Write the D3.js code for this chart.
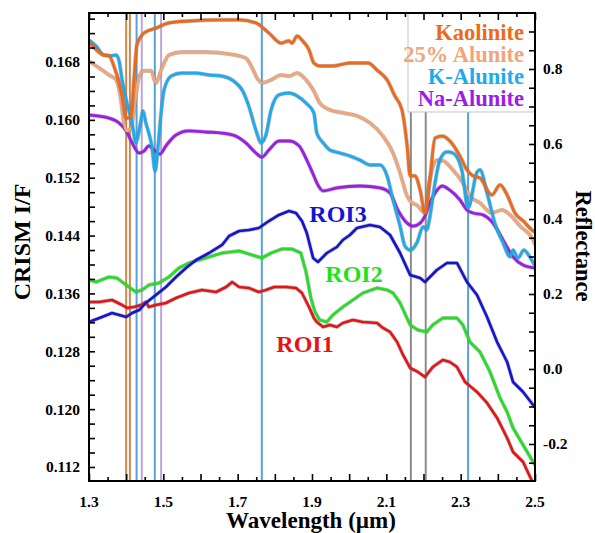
<!DOCTYPE html>
<html><head><meta charset="utf-8">
<script src="https://cdn.jsdelivr.net/npm/d3@7"></script>
<style>body{margin:0;background:#fff}svg{display:block}</style>
</head><body><svg id="c" width="595" height="533"></svg>
<script>
// ---------- DATA ----------
// Library spectra (right axis: Reflectance)
const kaoW = [1.300,1.340,1.354,1.367,1.389,1.400,1.413,1.421,1.429,1.448,1.480,1.515,1.569,1.658,1.704,1.749,1.784,1.817,1.838,1.846,1.860,1.873,1.892,1.905,1.921,1.956,2.002,2.051,2.075,2.102,2.123,2.142,2.156,2.164,2.177,2.191,2.204,2.217,2.231,2.250,2.271,2.298,2.317,2.333,2.352,2.384,2.406,2.425,2.446,2.468,2.495,2.500];
const kaoR = [0.872,0.837,0.835,0.808,0.731,0.669,0.672,0.771,0.864,0.896,0.909,0.923,0.928,0.931,0.931,0.923,0.896,0.869,0.875,0.869,0.888,0.877,0.851,0.816,0.808,0.808,0.816,0.816,0.797,0.771,0.728,0.691,0.595,0.515,0.515,0.477,0.416,0.504,0.616,0.621,0.608,0.568,0.531,0.515,0.509,0.464,0.491,0.464,0.416,0.395,0.368,0.365];

const alu25W = [1.300,1.327,1.354,1.373,1.386,1.394,1.402,1.413,1.426,1.435,1.448,1.467,1.480,1.494,1.515,1.550,1.615,1.677,1.722,1.739,1.752,1.765,1.790,1.817,1.838,1.860,1.884,1.905,1.921,1.948,1.983,2.021,2.056,2.091,2.118,2.137,2.156,2.169,2.182,2.204,2.217,2.236,2.252,2.279,2.306,2.325,2.352,2.384,2.411,2.433,2.460,2.495,2.500];
const alu25R = [0.821,0.803,0.784,0.771,0.717,0.656,0.635,0.643,0.728,0.781,0.795,0.795,0.763,0.797,0.837,0.845,0.845,0.840,0.829,0.803,0.776,0.763,0.771,0.784,0.781,0.789,0.771,0.741,0.709,0.691,0.683,0.675,0.656,0.621,0.576,0.523,0.461,0.443,0.437,0.416,0.504,0.557,0.555,0.531,0.496,0.461,0.443,0.416,0.424,0.411,0.381,0.344,0.330];

const kAluW = [1.300,1.319,1.340,1.359,1.373,1.381,1.389,1.402,1.416,1.426,1.432,1.440,1.445,1.453,1.461,1.469,1.478,1.486,1.494,1.502,1.521,1.548,1.588,1.623,1.658,1.695,1.712,1.730,1.749,1.763,1.776,1.790,1.811,1.838,1.860,1.884,1.905,1.913,1.930,1.948,1.975,2.002,2.029,2.056,2.083,2.102,2.118,2.137,2.150,2.164,2.182,2.199,2.209,2.217,2.231,2.244,2.263,2.279,2.303,2.320,2.344,2.352,2.371,2.392,2.414,2.433,2.441,2.454,2.470,2.486,2.500];
const kAluR = [0.877,0.861,0.837,0.835,0.837,0.821,0.771,0.709,0.656,0.603,0.621,0.664,0.688,0.656,0.629,0.595,0.528,0.595,0.683,0.744,0.781,0.789,0.789,0.784,0.781,0.763,0.744,0.701,0.637,0.603,0.624,0.691,0.731,0.736,0.728,0.709,0.683,0.629,0.603,0.584,0.576,0.568,0.557,0.544,0.544,0.515,0.451,0.381,0.328,0.317,0.336,0.379,0.371,0.405,0.496,0.557,0.579,0.576,0.531,0.429,0.525,0.531,0.469,0.389,0.336,0.299,0.317,0.296,0.317,0.299,0.275];

const naAluW = [1.300,1.354,1.381,1.400,1.416,1.435,1.448,1.461,1.475,1.491,1.507,1.534,1.569,1.615,1.658,1.695,1.722,1.749,1.765,1.784,1.811,1.838,1.865,1.886,1.905,1.913,1.930,1.967,2.029,2.083,2.110,2.131,2.156,2.172,2.191,2.204,2.217,2.231,2.250,2.271,2.298,2.317,2.333,2.360,2.387,2.414,2.441,2.468,2.500];
const naAluR = [0.677,0.669,0.656,0.635,0.603,0.576,0.581,0.595,0.584,0.573,0.595,0.624,0.635,0.632,0.629,0.621,0.603,0.576,0.565,0.584,0.608,0.608,0.595,0.557,0.515,0.496,0.475,0.483,0.488,0.483,0.469,0.424,0.389,0.381,0.389,0.408,0.443,0.469,0.488,0.477,0.451,0.424,0.416,0.411,0.389,0.344,0.299,0.277,0.269];

// CRISM ROI spectra (left axis: I/F)
const roi3W = [1.300,1.335,1.362,1.381,1.400,1.416,1.435,1.453,1.480,1.507,1.534,1.561,1.588,1.623,1.658,1.677,1.704,1.730,1.757,1.784,1.811,1.838,1.857,1.873,1.886,1.903,1.916,1.940,1.967,1.983,2.002,2.021,2.056,2.083,2.110,2.137,2.164,2.191,2.204,2.236,2.263,2.290,2.317,2.344,2.371,2.398,2.425,2.441,2.468,2.495,2.500];
const roi3I = [0.13205,0.13274,0.13329,0.13302,0.13274,0.13329,0.13371,0.13468,0.13578,0.13689,0.13827,0.13952,0.14062,0.14159,0.14270,0.14394,0.14463,0.14477,0.14505,0.14601,0.14685,0.14740,0.14712,0.14601,0.14436,0.14090,0.14035,0.14159,0.14242,0.14339,0.14408,0.14505,0.14546,0.14519,0.14408,0.14159,0.13855,0.13813,0.13758,0.13924,0.14021,0.14021,0.13758,0.13578,0.13274,0.12928,0.12652,0.12375,0.12237,0.12057,0.12030];

const roi2W = [1.300,1.319,1.354,1.375,1.400,1.426,1.443,1.461,1.488,1.515,1.542,1.569,1.596,1.623,1.658,1.704,1.739,1.765,1.790,1.819,1.846,1.870,1.884,1.897,1.908,1.921,1.940,1.956,1.983,2.010,2.037,2.075,2.102,2.118,2.137,2.164,2.185,2.209,2.225,2.252,2.290,2.306,2.325,2.352,2.379,2.406,2.425,2.441,2.468,2.495,2.500];
const roi2I = [0.13786,0.13758,0.13827,0.13813,0.13717,0.13620,0.13648,0.13717,0.13744,0.13827,0.13952,0.14021,0.14062,0.14104,0.14159,0.14187,0.14131,0.14090,0.14159,0.14214,0.14214,0.14159,0.13896,0.13537,0.13343,0.13233,0.13205,0.13302,0.13412,0.13509,0.13606,0.13675,0.13648,0.13606,0.13468,0.13164,0.13094,0.13067,0.13164,0.13260,0.13260,0.13164,0.12928,0.12790,0.12514,0.12154,0.11961,0.11739,0.11504,0.11269,0.11228];

const roi1W = [1.300,1.327,1.362,1.389,1.402,1.421,1.440,1.453,1.461,1.480,1.507,1.534,1.569,1.604,1.642,1.669,1.685,1.704,1.730,1.757,1.776,1.798,1.830,1.857,1.873,1.892,1.905,1.913,1.930,1.948,1.967,1.983,2.010,2.037,2.075,2.091,2.110,2.129,2.145,2.164,2.185,2.204,2.225,2.252,2.271,2.290,2.312,2.344,2.371,2.398,2.425,2.441,2.468,2.492,2.500];
const roi1I = [0.13482,0.13482,0.13509,0.13440,0.13399,0.13412,0.13440,0.13482,0.13412,0.13440,0.13468,0.13537,0.13606,0.13647,0.13620,0.13689,0.13758,0.13689,0.13675,0.13620,0.13647,0.13689,0.13689,0.13675,0.13606,0.13412,0.13260,0.13205,0.13136,0.13164,0.13136,0.13191,0.13233,0.13205,0.13191,0.13122,0.13067,0.12928,0.12749,0.12569,0.12514,0.12444,0.12583,0.12680,0.12652,0.12583,0.12375,0.12237,0.12085,0.11878,0.11601,0.11407,0.11269,0.11006,0.10940];

// Band-centre markers (µm) and which reference each belongs to
const bandCenters = [1.400,1.410,1.428,1.442,1.477,1.494,1.765,2.166,2.206,2.320];
const bandKinds   = ["kao","kao","kalu","naalu","kalu","naalu","kalu","gray","gray","kalu"];

// Legend / labels
const legendNames = ["Kaolinite","25% Alunite","K-Alunite","Na-Alunite"];
const roiNames = ["ROI3","ROI2","ROI1"];

// Ticks
const xTickLabels = [1.3,1.5,1.7,1.9,2.1,2.3,2.5];
const leftTickLabels = [0.112,0.120,0.128,0.136,0.144,0.152,0.160,0.168];
const rightTickLabels = [-0.2,0.0,0.2,0.4,0.6,0.8];

// ---------- DRAWING ----------
const svg = d3.select("#c");
const L = 89, R = 535, T = 13, B = 481;
const x = d3.scaleLinear().domain([1.3, 2.5]).range([L, R]);
const yL = d3.scaleLinear().domain([0.11006, 0.17478]).range([B, T]);
const yR = d3.scaleLinear().domain([-0.2987, 0.9493]).range([B, T]);

const font = "'Liberation Serif','Times New Roman',serif";
const colors = {
  kao: "#ee6a1a", alu25: "#f2a57a", kalu: "#1eaaee", naalu: "#9a1ee8",
  roi3: "#1414d2", roi2: "#22e022", roi1: "#e61414"
};
const bandColors = {kao: "#c98a4e", kalu: "#56a2d6", naalu: "#bca6d6", gray: "#8c8c8c"};

svg.append("defs").append("clipPath").attr("id","clip")
  .append("rect").attr("x",L).attr("y",T).attr("width",R-L).attr("height",B-T);

// band markers
svg.append("g").selectAll("line").data(bandCenters).join("line")
  .attr("x1", d => x(d)).attr("x2", d => x(d))
  .attr("y1", T).attr("y2", B)
  .attr("stroke", (d,i) => bandColors[bandKinds[i]])
  .attr("stroke-width", 2);

const plot = svg.append("g").attr("clip-path","url(#clip)");

function drawSeries(ws, vs, yScale, color, w, smooth) {
  const pts = ws.map((d,i) => [d, vs[i]]);
  const line = d3.line().x(d => x(d[0])).y(d => yScale(d[1]))
    .curve(smooth ? d3.curveMonotoneX : d3.curveLinear);
  plot.append("path").attr("d", line(pts)).attr("fill","none")
    .attr("stroke","#6e6e6e").attr("stroke-opacity",0.45).attr("stroke-width", w+1.3)
    .attr("stroke-linejoin","round");
  plot.append("path").attr("d", line(pts)).attr("fill","none")
    .attr("stroke", color).attr("stroke-width", w).attr("stroke-linejoin","round");
}

drawSeries(roi1W, roi1I, yL, colors.roi1, 2.6, false);
drawSeries(roi2W, roi2I, yL, colors.roi2, 2.6, false);
drawSeries(roi3W, roi3I, yL, colors.roi3, 2.6, false);
drawSeries(naAluW, naAluR, yR, colors.naalu, 2.8, true);
drawSeries(alu25W, alu25R, yR, colors.alu25, 2.8, true);
drawSeries(kAluW, kAluR, yR, colors.kalu, 2.8, true);
drawSeries(kaoW, kaoR, yR, colors.kao, 2.8, true);

// legend box
svg.append("rect").attr("x", 408).attr("y", T).attr("width", R-408).attr("height", 112-T)
  .attr("fill","#fff").attr("stroke","#c4c4c4").attr("stroke-width",1);
const legCol = [colors.kao, colors.alu25, colors.kalu, colors.naalu];
svg.append("g").selectAll("text").data(legendNames).join("text")
  .attr("x", 524).attr("y", (d,i) => 40 + i*22)
  .attr("text-anchor","end").attr("font-family",font).attr("font-weight","bold")
  .attr("font-size",22.5).attr("fill",(d,i)=>legCol[i]).text(d=>d);

// ROI labels
const roiPos = [[338,222],[354,282],[305,352]];
const roiCol = [colors.roi3, colors.roi2, colors.roi1];
svg.append("g").selectAll("text").data(roiNames).join("text")
  .attr("x",(d,i)=>roiPos[i][0]).attr("y",(d,i)=>roiPos[i][1])
  .attr("text-anchor","middle").attr("font-family",font).attr("font-weight","bold")
  .attr("font-size",24).attr("fill",(d,i)=>roiCol[i]).text(d=>d);

// axes ticks (inward)
const xMajor = d3.range(0, 13).map(i => +(1.3 + i*0.1).toFixed(2));
const xMinor = d3.range(0, 12).map(i => +(1.35 + i*0.1).toFixed(3));
const lTicks = d3.range(0, 33).map(i => +(0.112 + i*0.002).toFixed(3)).filter(v => v <= 0.1745);
const rTicks = d3.range(0, 25).map(i => +(-0.25 + i*0.05).toFixed(2)).filter(v => v >= -0.29 && v <= 0.94);

function ticks(axisFn, scale, vals, size, tr) {
  const g = svg.append("g").attr("transform", tr)
    .call(axisFn(scale).tickValues(vals).tickSize(size).tickSizeOuter(0).tickFormat(""));
  g.select(".domain").remove();
  g.selectAll(".tick line").attr("stroke","#000").attr("stroke-width",1.6);
}
ticks(d3.axisBottom, x, xMajor, -7, `translate(0,${B})`);
ticks(d3.axisBottom, x, xMinor, -4, `translate(0,${B})`);
ticks(d3.axisTop, x, xMajor, -7, `translate(0,${T})`);
ticks(d3.axisTop, x, xMinor, -4, `translate(0,${T})`);
ticks(d3.axisLeft, yL, lTicks, -6, `translate(${L},0)`);
ticks(d3.axisRight, yR, rTicks, -6, `translate(${R},0)`);

// frame
svg.append("rect").attr("x",L).attr("y",T).attr("width",R-L).attr("height",B-T)
  .attr("fill","none").attr("stroke","#000").attr("stroke-width",2);

// tick labels
const lab = {"font-family":font,"font-weight":"bold","font-size":15.5,"fill":"#000"};
function applyLab(sel){ Object.entries(lab).forEach(([k,v])=>sel.attr(k,v)); return sel; }
applyLab(svg.append("g").selectAll("text").data(xTickLabels).join("text")
  .attr("x", d => x(d)).attr("y", 507).attr("text-anchor","middle").text(d => d.toFixed(1)));
applyLab(svg.append("g").selectAll("text").data(leftTickLabels).join("text")
  .attr("x", 80).attr("y", d => yL(d)).attr("dy","0.35em").attr("text-anchor","end").text(d => d.toFixed(3)));
applyLab(svg.append("g").selectAll("text").data(rightTickLabels).join("text")
  .attr("x", 543).attr("y", d => yR(d)).attr("dy","0.35em").attr("text-anchor","start").text(d => d.toFixed(1)));

// axis titles
svg.append("text").attr("transform","translate(30,242) rotate(-90)")
  .attr("text-anchor","middle").attr("font-family",font).attr("font-weight","bold")
  .attr("font-size",24).text("CRISM I/F");
svg.append("text").attr("transform","translate(576,246) rotate(90)")
  .attr("text-anchor","middle").attr("font-family",font).attr("font-weight","bold")
  .attr("font-size",22.5).text("Reflectance");
svg.append("text").attr("x",311).attr("y",528)
  .attr("text-anchor","middle").attr("font-family",font).attr("font-weight","bold")
  .attr("font-size",23).text("Wavelength (µm)");
</script></body></html>
